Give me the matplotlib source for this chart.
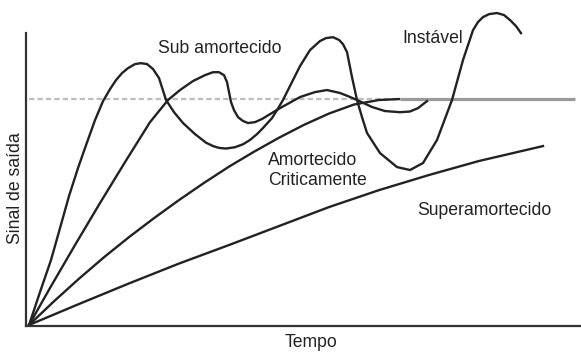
import matplotlib
matplotlib.use("Agg")
import matplotlib.pyplot as plt

#================================DATA=========================================#

# setpoint (steady-state value)
setpoint = 1.0
setpoint_dash_end = 3.71
setpoint_end = 5.46

# unstable response: growing oscillation
t_inst = [0, 0.11, 0.22, 0.31, 0.40, 0.49, 0.57, 0.66, 0.74, 0.81, 0.87, 0.93,
          0.99, 1.06, 1.12, 1.18, 1.24, 1.30, 1.37, 1.45, 1.54, 1.66, 1.77,
          1.84, 1.90, 1.97, 2.06, 2.14, 2.21, 2.28, 2.34, 2.43, 2.48, 2.54,
          2.61, 2.71, 2.81, 2.91, 2.97, 3.04, 3.10, 3.14, 3.18, 3.23, 3.28,
          3.33, 3.38, 3.51, 3.68, 3.81, 3.94, 4.08, 4.23, 4.34, 4.44, 4.49,
          4.54, 4.60, 4.68, 4.75, 4.81, 4.87, 4.92]
y_inst = [0, 0.146, 0.288, 0.429, 0.571, 0.695, 0.796, 0.907, 0.991, 1.044,
          1.084, 1.115, 1.137, 1.155, 1.159, 1.155, 1.133, 1.093, 0.996, 0.942,
          0.894, 0.845, 0.807, 0.792, 0.784, 0.781, 0.787, 0.800, 0.819, 0.845,
          0.872, 0.916, 0.951, 0.996, 1.058, 1.146, 1.217, 1.257, 1.270, 1.274,
          1.262, 1.243, 1.208, 1.097, 0.996, 0.920, 0.850, 0.761, 0.699, 0.686,
          0.717, 0.819, 0.996, 1.173, 1.305, 1.341, 1.363, 1.376, 1.381, 1.372,
          1.350, 1.323, 1.292]

# underdamped response: decaying oscillation
t_sub = [0, 0.21, 0.46, 0.71, 0.96, 1.21, 1.39, 1.51, 1.64, 1.76, 1.84, 1.90,
         1.95, 1.98, 2.00, 2.02, 2.05, 2.09, 2.14, 2.19, 2.26, 2.33, 2.51,
         2.71, 2.86, 2.98, 3.11, 3.19, 3.28, 3.43, 3.56, 3.71, 3.81, 3.89,
         3.98]
y_sub = [0, 0.164, 0.354, 0.540, 0.721, 0.898, 0.996, 1.040, 1.080, 1.106,
         1.119, 1.119, 1.106, 1.075, 1.031, 0.987, 0.951, 0.920, 0.903, 0.894,
         0.898, 0.912, 0.960, 1.009, 1.031, 1.040, 1.027, 1.013, 0.996, 0.965,
         0.947, 0.942, 0.945, 0.960, 0.991]

# critically damped response
t_crit = [0, 0.25, 0.50, 0.75, 1.00, 1.25, 1.50, 1.75, 2.00, 2.25, 2.50, 2.75,
          3.00, 3.25, 3.50, 3.70]
y_crit = [0, 0.105, 0.205, 0.300, 0.389, 0.473, 0.553, 0.629, 0.701, 0.767,
          0.829, 0.886, 0.936, 0.976, 0.996, 1.0]

# overdamped response
t_super = [0, 0.5, 1.0, 1.5, 2.0, 2.5, 3.0, 3.5, 4.0, 4.5, 5.14]
y_super = [0, 0.093, 0.184, 0.272, 0.354, 0.438, 0.522, 0.597, 0.664, 0.726,
           0.792]

#================================PLOT=========================================#

plt.rcParams['font.family'] = ['Liberation Sans', 'DejaVu Sans']
ink = "#222222"
fs = 12.7

fig = plt.figure(figsize=(5.81, 3.52), dpi=100)
ax = fig.add_axes([0.0448, 0.0739, 0.9552, 0.832])

ax.plot([0, setpoint_dash_end], [setpoint, setpoint], color="#bdbdbd",
        lw=1.6, ls=(0, (2.4, 1.4)))
ax.plot([setpoint_dash_end, setpoint_end], [setpoint, setpoint],
        color="#9a9a9a", lw=2.3, solid_capstyle="butt")

kw = dict(color=ink, lw=1.7, solid_joinstyle="round", clip_on=False)
ax.plot(t_super, y_super, **kw)
ax.plot(t_crit, y_crit, **kw)
ax.plot(t_sub, y_sub, **kw)
ax.plot(t_inst, y_inst, **kw)

ax.set_xlim(-0.03, 5.52)
ax.set_ylim(-0.0044, 1.292)
for side in ("top", "right"):
    ax.spines[side].set_visible(False)
for side in ("left", "bottom"):
    ax.spines[side].set_color("#333333")
    ax.spines[side].set_linewidth(1.6)
ax.set_xticks([])
ax.set_yticks([])

ax.text(1.905, 1.204, "Sub amortecido", ha="center", va="baseline",
        fontsize=fs, color=ink)
ax.text(4.035, 1.248, "Instável", ha="center", va="baseline",
        fontsize=fs, color=ink)
ax.text(2.39, 0.708, "Amortecido", ha="left", va="baseline",
        fontsize=fs, color=ink)
ax.text(2.39, 0.619, "Criticamente", ha="left", va="baseline",
        fontsize=fs, color=ink)
ax.text(3.88, 0.487, "Superamortecido", ha="left", va="baseline",
        fontsize=fs, color=ink)

fig.text(0.536, 0.0142, "Tempo", ha="center", va="baseline",
         fontsize=fs, color=ink)
fig.text(0.0267, 0.466, "Sinal de saída", rotation=90, ha="center",
         va="center", fontsize=fs, color=ink)

fig.savefig("out.png", dpi=100)
